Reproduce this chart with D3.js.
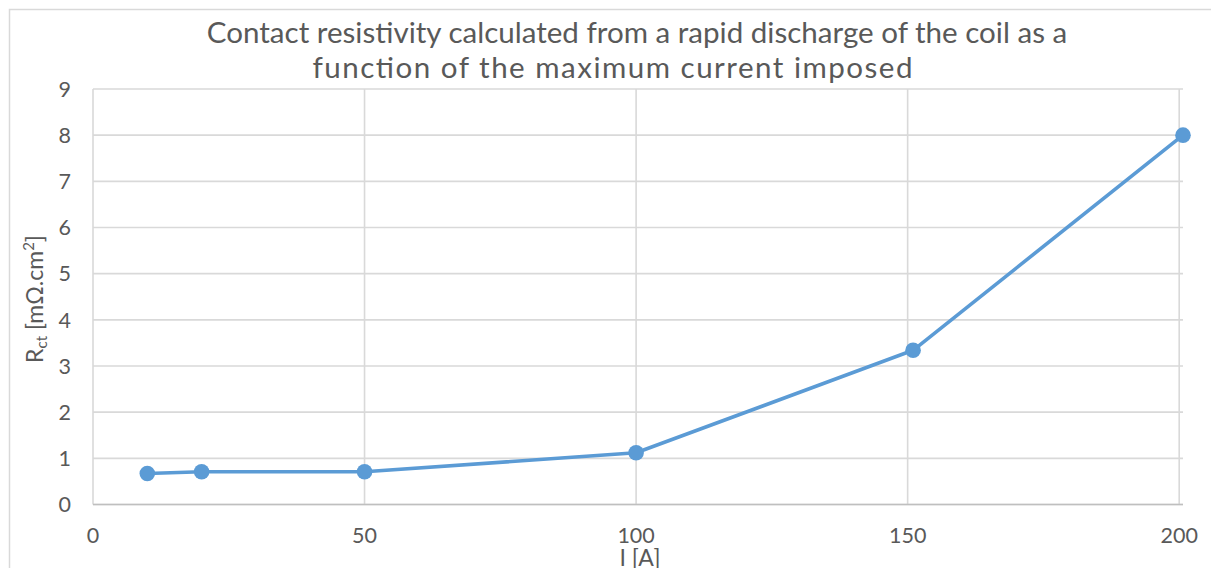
<!DOCTYPE html>
<html><head><meta charset="utf-8">
<script src="https://cdn.jsdelivr.net/npm/d3@7"></script>
<style>body{margin:0;background:#fff}svg{display:block}text{font-family:Lato,"Open Sans",sans-serif;fill:#595959}</style>
</head><body><svg id="c" width="1211" height="568"></svg>
<script>
const currents = [10, 20, 50, 100, 151, 200.7];
const resistivity = [0.67, 0.71, 0.71, 1.12, 3.34, 8.0];
const xTicks = [0, 50, 100, 150, 200];
const yTicks = [0, 1, 2, 3, 4, 5, 6, 7, 8, 9];
const titleLines = ["Contact resistivity calculated from a rapid discharge of the coil as a", "function of the maximum current imposed"];

const svg = d3.select("#c");
const W = 1211, H = 568;
const m = {l: 93, r: 1183, t: 89, b: 504.5};
const x = d3.scaleLinear().domain([0, 200.7]).range([m.l, m.r]);
const y = d3.scaleLinear().domain([0, 9]).range([m.b, m.t]);

// chart border
svg.append("path").attr("d", `M9.5,${H+2}V9.5H${W+2}`).attr("fill","none").attr("stroke","#d9d9d9").attr("stroke-width",1.5);

// gridlines
const g = svg.append("g");
g.selectAll("line.h").data(yTicks).join("line").attr("class","h")
  .attr("x1", m.l).attr("x2", m.r).attr("y1", d=>y(d)).attr("y2", d=>y(d))
  .attr("stroke", "#d9d9d9").attr("stroke-width", 1.6);
g.selectAll("line.v").data(xTicks).join("line").attr("class","v")
  .attr("x1", d=>x(d)).attr("x2", d=>x(d)).attr("y1", m.t).attr("y2", m.b)
  .attr("stroke", "#d9d9d9").attr("stroke-width", 1.6);
svg.append("line").attr("x1", m.l).attr("x2", m.r).attr("y1", y(0)).attr("y2", y(0)).attr("stroke","#bfbfbf").attr("stroke-width",1.6);

// tick labels
svg.append("g").selectAll("text").data(yTicks).join("text")
  .attr("x", 71).attr("y", d=>y(d)).attr("dy","0.36em").attr("text-anchor","end")
  .attr("font-size", 21.5).text(d=>d);
svg.append("g").selectAll("text").data(xTicks).join("text")
  .attr("x", d=>x(d)).attr("y", 543).attr("text-anchor","middle")
  .attr("font-size", 21.5).text(d=>d);

// axis titles
svg.append("text").attr("x", 640).attr("y", 566).attr("text-anchor","middle").attr("font-size",23).text("I [A]");
const yt = svg.append("text").attr("transform","translate(43,299) rotate(-90)").attr("text-anchor","middle").attr("font-size",23);
yt.append("tspan").text("R");
yt.append("tspan").attr("font-size",15).attr("dy",4).text("ct");
yt.append("tspan").attr("dy",-4).text(" [mΩ.cm");
yt.append("tspan").attr("font-size",15).attr("dy",-9).text("2");
yt.append("tspan").attr("dy",9).text("]");

// title: one size for both lines, fitted to first line width
const t1 = svg.append("text").attr("x", 637).attr("y", 43).attr("text-anchor","middle").attr("font-size", 28).text(titleLines[0]);
const fs = 28 * 861 / t1.node().getComputedTextLength();
t1.attr("font-size", fs);
svg.append("text").attr("x", 612.5).attr("y", 78).attr("text-anchor","middle").attr("font-size", fs)
  .attr("textLength", 600).attr("lengthAdjust", "spacing").text(titleLines[1]);

// series
const data = currents.map((c,i)=>({c, r: resistivity[i]}));
svg.append("path").datum(data)
  .attr("d", d3.line().x(d=>x(d.c)).y(d=>y(d.r)))
  .attr("fill","none").attr("stroke","#5b9bd5").attr("stroke-width",3.6).attr("stroke-linejoin","round");
svg.append("g").selectAll("circle").data(data).join("circle")
  .attr("cx", d=>x(d.c)).attr("cy", d=>y(d.r)).attr("r", 7.8).attr("fill","#5b9bd5");
</script></body></html>
